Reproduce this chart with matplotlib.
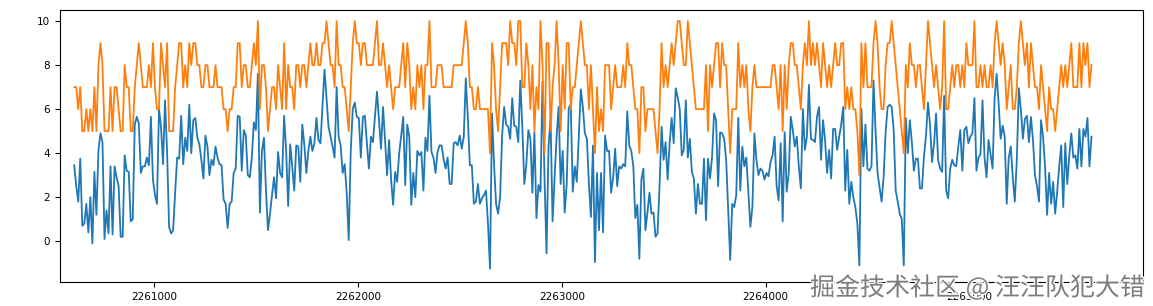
import matplotlib
matplotlib.use("Agg")
import matplotlib.pyplot as plt
import matplotlib.patheffects as pe
import numpy as np

X_START = 2260606
X_END = 2265600

# orange series (integer scores)
score = [
    7, 7, 6, 7, 5, 5, 6, 5, 6, 5, 7, 5, 8, 9, 8, 5, 5, 5, 7, 5,
    7, 7, 6, 5, 5, 8, 7, 7, 5, 5, 7, 8, 9, 8, 7, 7, 7, 8, 7, 9,
    7, 6, 6, 9, 8, 7, 9, 5, 5, 5, 7, 8, 9, 9, 7, 8, 7, 9, 8, 9,
    9, 8, 8, 7, 7, 8, 8, 7, 7, 7, 8, 7,
    7, 7, 6, 6, 5, 6, 6, 7, 7, 9, 9, 7, 8, 8, 7, 7, 8, 9, 8, 10,
    6, 8, 8, 7, 5, 6, 7, 7, 6, 8, 7, 6, 9, 6, 8, 7, 7, 6, 8, 8,
    7, 8, 8, 7, 8, 9, 8, 8, 9, 8, 8, 9, 9, 10, 9, 8, 8, 7, 10, 8,
    8, 7, 7, 6, 5, 7, 9, 10, 9, 9, 8,
    9, 9, 8, 8, 8, 8, 9, 10, 8, 8, 9, 8, 7, 8, 7, 6, 7, 7, 7, 8,
    9, 7, 9, 8, 6, 7, 6, 8, 7, 8, 6, 8, 8, 10, 7, 7, 7, 8, 8, 8,
    7, 7, 7, 7, 7, 8, 8, 8, 8, 8, 9, 10, 9, 7, 7, 6, 6, 7, 6, 6,
    6, 6, 6, 4, 9, 8, 6, 5, 7, 9, 9, 9,
    8, 10, 9, 9, 8, 10, 10, 7, 7, 9, 8, 6, 8, 5, 7, 6, 10, 8, 4, 9,
    9, 5, 7, 8, 10, 8, 5, 8, 6, 9, 9, 6, 7, 7, 8, 9, 10, 9, 8, 8,
    6, 8, 6, 4, 7, 5, 6, 5, 8, 8, 8, 6, 7, 8, 7, 7, 7, 8, 7, 9,
    8, 8, 7, 6, 6, 4, 7, 7, 5, 6, 6, 6,
    6, 5, 4, 6, 9, 7, 8, 7, 8, 9, 8, 9, 10, 10, 9, 8, 8, 10, 9, 8,
    7, 6, 6, 6, 6, 6, 8, 5, 8, 7, 8, 9, 9, 7, 9, 8, 8, 6, 4, 6,
    6, 6, 9, 7, 8, 7, 8, 6, 5, 7, 8, 7, 7, 7, 7, 7, 7, 7, 7, 8,
    8, 7, 6, 8, 5, 8, 6, 8, 9, 9, 8, 8,
    7, 6, 8, 9, 8, 10, 8, 9, 8, 9, 8, 7, 9, 8, 7, 8, 7, 8, 9, 8,
    8, 9, 9, 6, 7, 6, 7, 6, 6, 5, 3, 9, 7, 9, 7, 7, 7, 9, 10, 9,
    7, 6, 6, 8, 9, 9, 10, 9, 8, 7, 6, 5, 4, 8, 7, 9, 8, 8, 7, 8,
    8, 7, 6, 8, 10, 9, 8, 7, 8, 7, 6, 7,
    10, 6, 6, 7, 8, 7, 8, 8, 7, 8, 7, 9, 8, 8, 8, 10, 7, 7, 8, 7,
    8, 7, 7, 8, 7, 9, 10, 9, 8, 9, 8, 6, 7, 8, 6, 6, 7, 9, 10, 9,
    8, 9, 7, 9, 8, 7, 7, 6, 8, 7, 6, 5, 7, 6, 6, 5, 6, 7, 8, 7,
    8, 7, 8, 9, 7, 7, 7, 9, 7, 9, 8, 9, 7, 8,
]

# blue series (continuous values)
value = [
    3.45, 2.5, 1.8, 3.75, 0.7, 0.8, 1.7, 0.4, 2.0, -0.1,
    3.15, 1.2, 4.1, 4.9, 4.5, 0.1, 1.4, 0.35, 3.4, 0.3,
    3.4, 2.9, 2.5, 0.2, 0.2, 3.9, 3.2, 3.15, 0.9, 1.0,
    5.3, 5.65, 5.35, 3.1, 3.4, 3.4, 3.8, 3.45, 5.65, 2.8,
    2.1, 1.7, 6.0, 5.2, 3.5, 6.4, 4.1, 0.65, 0.35, 0.5,
    2.2, 3.8, 3.75, 5.7, 3.5, 4.7, 4.1, 6.2, 4.0, 5.5,
    5.6, 4.7, 4.4, 3.7, 2.85, 4.8, 4.3, 3.0, 3.7, 3.45,
    4.3, 3.8,
    3.5, 3.45, 1.9, 1.7, 0.6, 1.7, 1.8, 3.1, 3.3, 5.7,
    5.65, 3.2, 5.05, 4.8, 3.0, 2.9, 3.8, 5.4, 5.05, 7.6,
    1.3, 4.1, 4.7, 2.3, 0.5, 1.25, 2.1, 2.9, 1.95, 4.05,
    3.1, 2.9, 5.7, 4.1, 1.6, 4.4, 3.4, 2.3, 4.35, 4.3,
    2.7, 5.3, 4.4, 3.1, 4.1, 4.75, 4.1, 4.45, 5.6, 4.6,
    4.45, 6.1, 7.8, 6.5, 5.2, 4.75, 4.3, 3.8, 7.0, 4.75,
    4.35, 3.1, 3.5, 2.2, 0.05, 4.1, 6.0, 6.3, 5.65, 5.6,
    3.8,
    5.65, 5.7, 4.45, 3.3, 4.75, 4.5, 5.65, 6.8, 5.5, 4.2,
    6.1, 4.6, 3.0, 4.6, 2.8, 1.65, 3.15, 2.7, 4.0, 4.8,
    5.65, 2.55, 5.3, 4.75, 1.65, 3.1, 2.0, 4.1, 3.9, 4.05,
    2.3, 4.7, 4.1, 6.6, 4.05, 3.8, 3.1, 4.05, 4.35, 4.35,
    3.75, 3.3, 3.8, 2.6, 2.6, 4.45, 4.5, 4.35, 4.8, 4.2,
    4.75, 7.4, 5.65, 3.45, 3.45, 1.7, 1.8, 2.6, 1.7, 1.95,
    2.1, 2.3, 0.8, -1.25, 5.8, 3.5, 1.7, 1.25, 2.0, 4.8,
    6.1, 5.3,
    5.2, 4.65, 6.5, 5.25, 5.2, 4.5, 7.3, 5.2, 2.6, 3.5,
    5.05, 4.65, 2.2, 4.95, 1.05, 2.55, 2.25, 7.25, 2.9, -0.55,
    4.3, 5.6, 0.9, 2.9, 4.75, 6.1, 2.6, 4.1, 1.3, 2.6,
    6.05, 6.2, 2.25, 3.4, 2.7, 4.75, 6.9, 6.1, 4.9, 4.65,
    2.6, 1.1, 4.35, -0.95, 3.1, 0.5, 3.1, 0.4, 4.8, 4.1,
    4.1, 2.2, 2.9, 4.2, 2.5, 3.4, 3.3, 3.5, 3.4, 5.9,
    4.35, 4.1, 3.4, 1.05, 1.65, -0.8, 2.8, 3.3, 0.5, 1.3,
    2.2, 1.25,
    1.3, 0.2, 0.35, 2.5, 5.2, 3.7, 4.5, 2.8, 4.45, 5.6,
    4.45, 6.95, 6.55, 6.0, 3.9, 4.15, 6.4, 3.8, 4.65, 3.15,
    2.85, 1.25, 2.6, 1.7, 1.7, 3.75, 0.95, 3.75, 2.85, 3.8,
    5.8, 5.5, 2.5, 4.95, 4.9, 4.65, 3.7, 1.4, -0.85, 1.7,
    1.55, 2.1, 5.6, 2.3, 4.3, 3.4, 3.8, 2.2, 0.65, 1.55,
    4.9, 3.7, 3.0, 3.3, 3.2, 2.8, 3.1, 2.95, 3.6, 3.9,
    4.75, 2.5, 1.85, 4.45, 0.9, 4.95, 2.25, 3.1, 5.65, 5.05,
    4.3, 4.75,
    3.4, 2.4, 6.0, 4.15, 4.75, 7.1, 4.65, 4.6, 4.5, 5.65,
    6.1, 3.7, 5.5, 4.6, 3.1, 4.15, 2.85, 5.1, 5.1, 4.15,
    4.75, 5.3, 6.1, 2.3, 4.15, 1.7, 2.7, 2.0, 1.55, 0.8,
    -1.1, 6.0, 3.4, 5.3, 3.3, 3.2, 3.4, 7.3, 5.05, 3.1,
    2.45, 1.8, 2.9, 4.95, 6.1, 6.2, 6.1, 5.05, 2.3, 1.8,
    1.25, 1.0, -1.1, 5.6, 4.0, 5.5, 4.5, 3.2, 3.75, 3.75,
    2.4, 2.4, 3.85, 4.8, 6.3, 5.3, 3.6, 4.45, 5.8, 3.7,
    3.3, 3.15,
    6.6, 2.3, 1.95, 3.3, 3.7, 3.45, 3.4, 4.3, 5.05, 3.2,
    5.05, 5.2, 4.45, 4.75, 4.9, 6.5, 3.2, 3.8, 3.95, 6.4,
    3.8, 2.9, 4.6, 3.95, 3.3, 6.5, 7.6, 6.25, 4.65, 5.25,
    4.75, 1.7, 3.8, 4.3, 2.9, 1.8, 3.7, 6.95, 6.0, 4.65,
    5.55, 5.7, 4.5, 5.65, 4.6, 3.0, 2.5, 1.8, 5.5, 4.75,
    3.4, 1.2, 3.1, 1.7, 2.7, 1.25, 2.25, 3.4, 4.35, 1.55,
    4.45, 2.6, 3.9, 4.9, 3.8, 3.9, 3.3, 5.1, 3.4, 5.1,
    4.75, 5.6, 3.4, 4.75,
]

x_value = np.linspace(X_START, X_END, len(value))
x_score = np.linspace(X_START, X_END, len(score))

fig = plt.figure(figsize=(11.53, 3.06), dpi=100)
ax = fig.add_axes([0.052, 0.078, 0.939, 0.889])

ax.plot(x_value, value, color="#1f77b4", linewidth=1.3)
ax.plot(x_score, score, color="#ff7f0e", linewidth=1.3)

ax.set_xlim(2260536, 2265851)
ax.set_ylim(-1.86, 10.5)
ax.set_xticks([2261000, 2262000, 2263000, 2264000, 2265000])
ax.set_yticks([0, 2, 4, 6, 8, 10])
ax.tick_params(labelsize=7.5)
ax.ticklabel_format(axis="x", style="plain", useOffset=False)

# watermark in the bottom right corner
fig.text(0.993, 0.015, "掘金技术社区 @ 汪汪队犯大错",
         ha="right", va="bottom", fontsize=18, color="#7c7c7c",
         family=["Noto Sans CJK SC", "DejaVu Sans"],
         path_effects=[pe.withStroke(linewidth=2, foreground="white")])

fig.savefig("out.png", dpi=100)
